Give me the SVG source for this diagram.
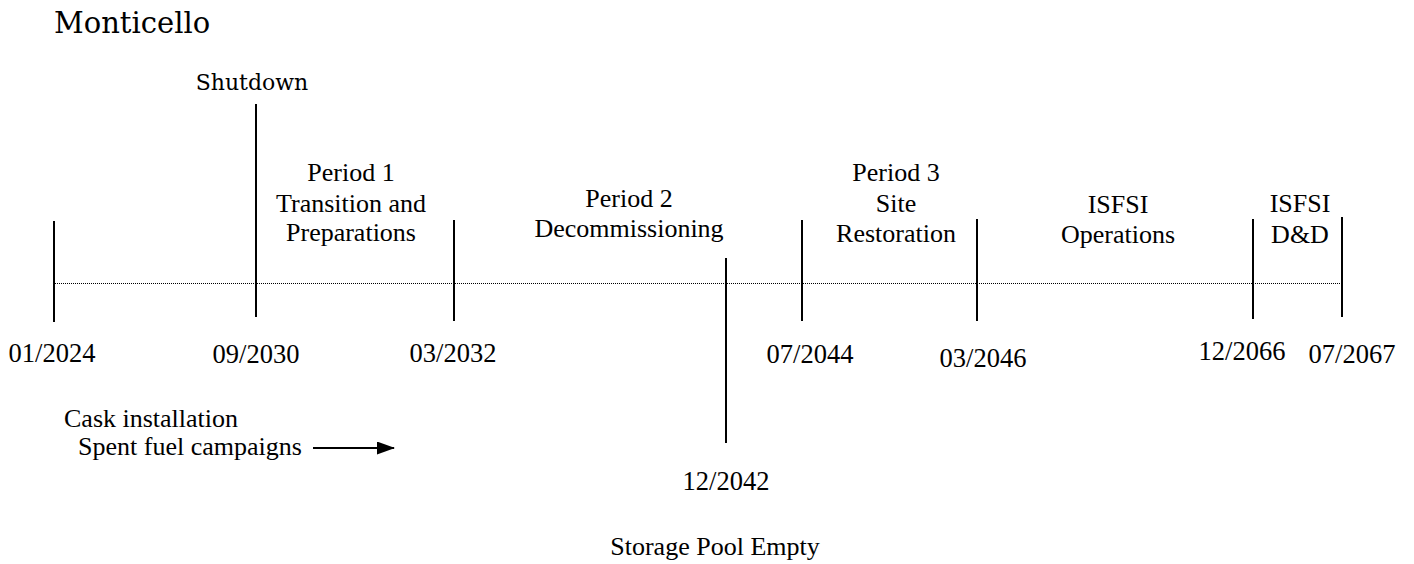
<svg xmlns="http://www.w3.org/2000/svg" width="1414" height="564" viewBox="0 0 1414 564">
<style>
text{font-family:"Liberation Serif","Times New Roman",serif;font-size:26px;fill:#000}
.c{text-anchor:middle}
.d{font-size:26.5px}
.cs{font-family:"DejaVu Serif",serif}
.tick{stroke:#000;stroke-width:2}
.dot{stroke:#000;stroke-width:1;stroke-dasharray:1 1}
</style>
<defs>
<marker id="ah" markerWidth="18" markerHeight="13" refX="17" refY="6.5" orient="auto" markerUnits="userSpaceOnUse">
<path d="M0,0 L18,6.5 L0,13 Z" fill="#000"/>
</marker>
</defs>
<rect width="1414" height="564" fill="#fff"/>
<text id="title" class="cs" x="54" y="33" style="font-size:29px">Monticello</text>

<g id="connectors">
<line class="dot" x1="55" y1="283.5" x2="1341" y2="283.5"/>
<line x1="313" y1="448" x2="394" y2="448" stroke="#000" stroke-width="2" marker-end="url(#ah)"/>
</g>

<g id="t2024"><line class="tick" x1="54" y1="221" x2="54" y2="322"/><text class="c d" x="52" y="362">01/2024</text></g>
<g id="t2030"><text class="c cs" x="252" y="90" style="font-size:22px">Shutdown</text><line class="tick" x1="256" y1="104" x2="256" y2="317"/><text class="c d" x="256" y="363">09/2030</text></g>
<g id="period1"><text class="c" x="351" y="181">Period 1</text><text class="c" x="351" y="212">Transition and</text><text class="c" x="351" y="241">Preparations</text></g>
<g id="t2032"><line class="tick" x1="454" y1="220" x2="454" y2="321"/><text class="c d" x="453" y="362">03/2032</text></g>
<g id="period2"><text class="c" x="629" y="207">Period 2</text><text class="c" x="629" y="237">Decommissioning</text></g>
<g id="t2042"><line class="tick" x1="726" y1="258" x2="726" y2="443"/><text class="c d" x="726" y="490">12/2042</text><text class="c" x="715" y="555">Storage Pool Empty</text></g>
<g id="t2044"><line class="tick" x1="802" y1="220" x2="802" y2="321"/><text class="c d" x="810" y="363">07/2044</text></g>
<g id="period3"><text class="c" x="896" y="181">Period 3</text><text class="c" x="896" y="212">Site</text><text class="c" x="896" y="242">Restoration</text></g>
<g id="t2046"><line class="tick" x1="977" y1="219" x2="977" y2="321"/><text class="c d" x="983" y="367">03/2046</text></g>
<g id="isfsiops"><text class="c" x="1118" y="213">ISFSI</text><text class="c" x="1118" y="243">Operations</text></g>
<g id="t2066"><line class="tick" x1="1253" y1="219" x2="1253" y2="319"/><text class="c d" x="1242" y="360">12/2066</text></g>
<g id="isfsidd"><text class="c" x="1300" y="212">ISFSI</text><text class="c" x="1300" y="243">D&amp;D</text></g>
<g id="t2067"><line class="tick" x1="1342" y1="217" x2="1342" y2="317"/><text class="c d" x="1352" y="363">07/2067</text></g>
<g id="cask"><text x="64" y="427">Cask installation</text><text x="78" y="455">Spent fuel campaigns</text></g>
</svg>
